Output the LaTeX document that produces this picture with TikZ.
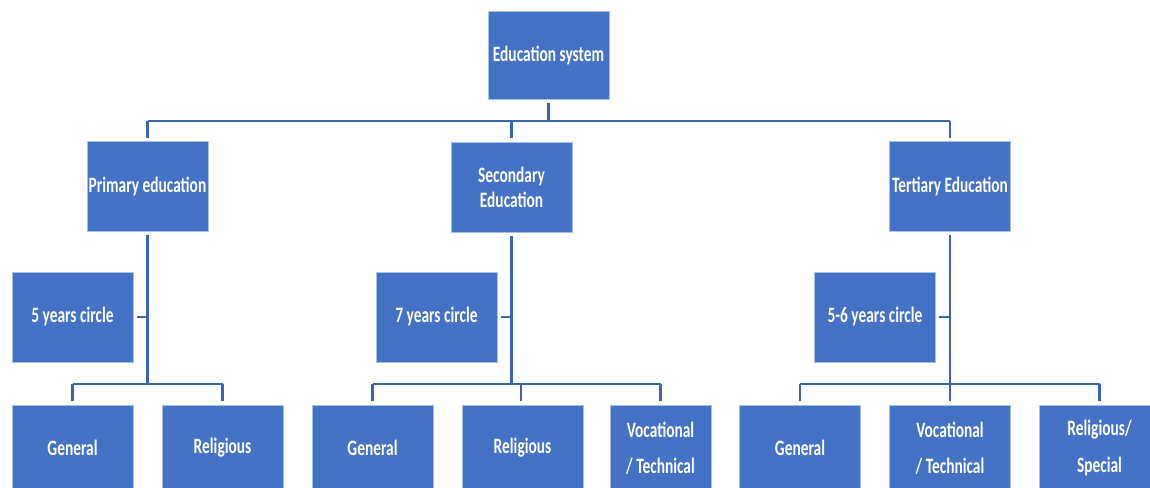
\documentclass[tikz,border=0pt]{standalone}
\usepackage{fontspec}
\newfontfamily\boxfont{Carlito}[FakeStretch=0.70]
\definecolor{boxblue}{HTML}{4472C4}
\definecolor{boxedge}{HTML}{A9BFE6}
\definecolor{linkblue}{HTML}{3C65AF}
\begin{document}
\begin{tikzpicture}[x=0.75pt,y=-0.75pt,
  unit/.style={rectangle, fill=boxblue, draw=boxedge, line width=0.5pt,
    minimum width=90.75pt, minimum height=67.5pt, inner sep=1pt,
    text=white, align=center,
    font=\boxfont\bfseries\fontsize{16.5}{18.75}\selectfont},
  narrowunit/.style={unit, minimum width=75.75pt},
  leaf/.style={unit, minimum height=64.5pt},
  conn/.style={draw=linkblue, line width=1.8pt},
  gap/.style={shorten <=2.4pt},
  gapend/.style={shorten >=2.4pt}]
\useasboundingbox (0,0) rectangle (1150,488);
\clip (0,0) rectangle (1150,488);

% root
\node[unit, minimum height=66pt] (root) at (548.5,55) {Education system};

% three levels of schooling
\node[unit] (prim) at (147.5,186.5) {Primary education};
\node[unit] (sec)  at (511.5,187)   {Secondary\\Education};
\node[unit] (tert) at (950,186.5)   {Tertiary Education};

% duration boxes
\node[unit] (c5)  at (72.5,317)  {5 years circle};
\node[unit] (c7)  at (436.5,317) {7 years circle};
\node[unit] (c56) at (875,317)   {5-6 years circle};

% streams
\node[leaf] (pg) at (72.5,448)  {General};
\node[leaf] (pr) at (222.5,448) {Religious};
\node[leaf] (sg) at (372.5,448) {General};
\node[leaf] (sr) at (522.5,448) {Religious};
\node[leaf, minimum width=75.75pt] (sv) at (660.5,448) {Vocational\\[8.5pt]/ Technical};
\node[leaf] (tg) at (800,448)  {General};
\node[leaf] (tv) at (950,448)  {Vocational\\[8.5pt]/ Technical};
\node[leaf] (ts) at (1099.5,448) {Religious/\\[8.5pt]Special};

% bus levels
\coordinate (topbus) at (549,121);
\coordinate (lowbus) at (0,384);

% root to the three levels
\draw[conn, gap] (root.south) -- (root.south |- topbus);
\draw[conn] (prim.north |- topbus) -- (tert.north |- topbus);
\draw[conn, gapend] (prim.north |- topbus) -- (prim.north);
\draw[conn, gapend] (sec.north |- topbus) -- (sec.north);
\draw[conn, gapend] (tert.north |- topbus) -- (tert.north);

% primary branch
\draw[conn, gap] (prim.south) -- (prim.south |- lowbus);
\draw[conn, gap] (c5.east) -- (c5.east -| prim.south);
\draw[conn] (pg.north |- lowbus) -- (pr.north |- lowbus);
\draw[conn, gapend] (pg.north |- lowbus) -- (pg.north);
\draw[conn, gapend] (pr.north |- lowbus) -- (pr.north);

% secondary branch
\draw[conn, gap] (sec.south) -- (sec.south |- lowbus);
\draw[conn, gap] (c7.east) -- (c7.east -| sec.south);
\draw[conn] (sg.north |- lowbus) -- (sv.north |- lowbus);
\draw[conn, gapend] (sg.north |- lowbus) -- (sg.north);
\draw[conn, gapend] ([xshift=-1.1pt]sr.north |- lowbus) -- ([xshift=-1.1pt]sr.north);
\draw[conn, gapend] (sv.north |- lowbus) -- (sv.north);

% tertiary branch
\draw[conn, gap] (tert.south) -- (tert.south |- lowbus);
\draw[conn, gap] (c56.east) -- (c56.east -| tert.south);
\draw[conn] (tg.north |- lowbus) -- (ts.north |- lowbus);
\draw[conn, gapend] (tg.north |- lowbus) -- (tg.north);
\draw[conn, gapend] (tv.north |- lowbus) -- (tv.north);
\draw[conn, gapend] (ts.north |- lowbus) -- (ts.north);
\end{tikzpicture}
\end{document}
